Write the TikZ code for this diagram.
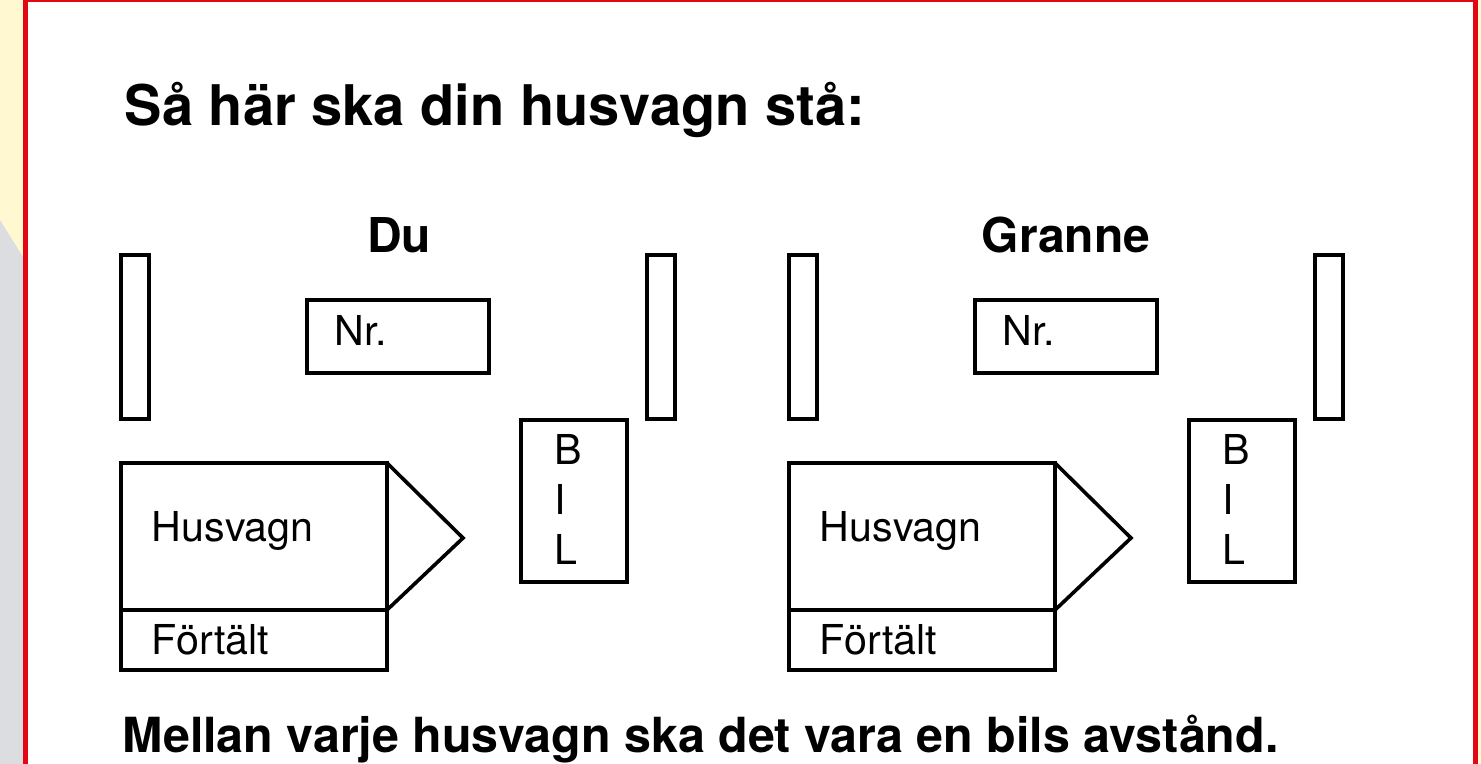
\documentclass[tikz,border=0pt]{standalone}
\usepackage{fontspec}
\setmainfont{TeX Gyre Heros}
\usepackage{tikz}
\usetikzlibrary{calc}

\definecolor{cream}{HTML}{FFF8D0}
\definecolor{sidegray}{HTML}{DCDDE0}
\definecolor{framered}{HTML}{E30613}

\tikzset{
  lbl/.style={anchor=base west, inner sep=0pt, font=\fontsize{20.6}{23}\selectfont},
  head/.style={anchor=base, inner sep=0pt, font=\fontsize{24}{28}\selectfont\bfseries},
}

\begin{document}
\begin{tikzpicture}[x=0.5pt, y=-0.5pt, line width=1.8pt]
  \useasboundingbox (0,0) rectangle (1481,764);
  % page background and red frame
  \fill[cream] (0,0) rectangle (1481,764);
  \fill[sidegray] (0,220) -- (23,257) -- (23,764) -- (0,764) -- cycle;
  \fill[white] (23,0) rectangle (1478,764);
  \fill[framered] (23,0) rectangle (28,764);
  \fill[framered] (1473,0) rectangle (1478,764);
  \fill[framered] (23,0) rectangle (1478,2);

  \node[anchor=base west, inner sep=0pt, font=\fontsize{28}{32}\selectfont\bfseries]
    (title) at (123,126) {Så här ska din husvagn stå:};

  % one pitch each: you and the neighbour
  \foreach \dx/\who/\cx/\nm in {0/Du/399/du, 668/Granne/1066/gr}{
    \node[head] (\nm-head) at (\cx,253) {\who};
    \draw (121+\dx,255) rectangle (149+\dx,419);   % left post
    \draw (647+\dx,255) rectangle (675+\dx,419);   % right post
    \draw (307+\dx,300) rectangle (489+\dx,373);
    \node[lbl] (\nm-nr) at (333+\dx,345) {Nr.};
    \draw (521+\dx,420) rectangle (627+\dx,582);
    \node[lbl] (\nm-b) at (553+\dx,464) {B};
    \node[lbl] (\nm-i) at (553+\dx,514) {I};
    \node[lbl] (\nm-l) at (553+\dx,564) {L};
    % caravan with drawbar and awning
    \draw (121+\dx,463) rectangle (387+\dx,610);
    \draw (387+\dx,463) -- (463+\dx,538) -- (387+\dx,610);
    \draw (121+\dx,610) rectangle (387+\dx,670);
    \node[lbl] (\nm-hv) at (150+\dx,541) {Husvagn};
    \node[lbl] (\nm-ft) at (150+\dx,654) {Förtält};
  }

  \node[anchor=base west, inner sep=0pt, font=\fontsize{24.2}{28}\selectfont\bfseries]
    (note) at (121,752) {Mellan varje husvagn ska det vara en bils avstånd.};
\end{tikzpicture}
\end{document}
